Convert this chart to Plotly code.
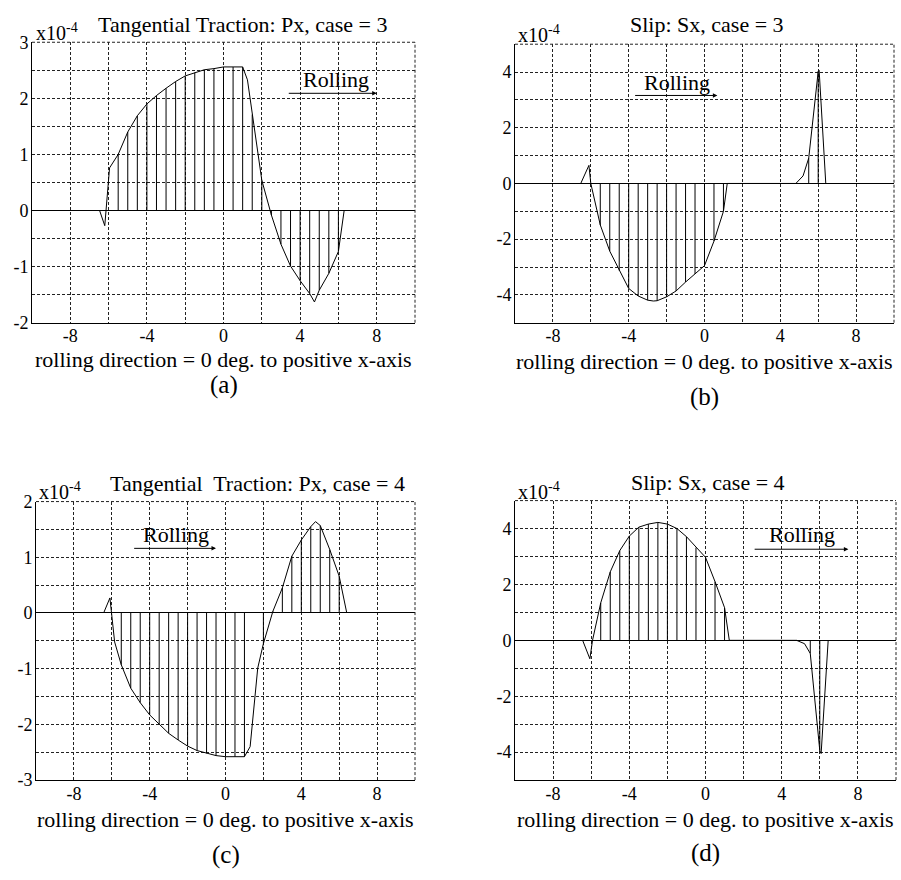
import plotly.graph_objects as go

# ---------------- data (values in units of 1e-4) ----------------
a_x = [-6.47, -6.2, -5.95, -5.5, -5.0, -4.5, -4.0, -3.5, -3.0, -2.5, -2.0, -1.5, -1.0, -0.5, 0.0, 0.5, 1.0, 1.25,
       1.5, 2.0, 2.5, 3.0, 3.5, 4.0, 4.5, 4.75, 5.0, 5.5, 6.0, 6.3]
a_y = [0, -0.27, 0.76, 1.0, 1.40, 1.69, 1.90, 2.05, 2.18, 2.30, 2.40, 2.46, 2.51, 2.53, 2.56, 2.56, 2.56, 2.33,
       1.71, 0.54, -0.08, -0.60, -0.99, -1.25, -1.48, -1.63, -1.42, -1.12, -0.73, 0]

b_x = [-6.53, -6.1, -6.0, -5.5, -5.0, -4.5, -4.0, -3.5, -3.0, -2.7, -2.5, -2.0, -1.5, -1.0, -0.5, 0.0, 0.5, 1.0,
       1.2, 4.82, 5.2, 5.5, 6.0, 6.05, 6.4]
b_y = [0, 0.65, 0, -1.49, -2.43, -3.13, -3.77, -4.04, -4.19, -4.22, -4.21, -4.07, -3.86, -3.54, -3.25, -2.95,
       -2.07, -1.0, 0, 0, 0.27, 0.91, 4.02, 4.06, 0]

c_x = [-6.43, -6.1, -5.85, -5.5, -5.0, -4.5, -4.0, -3.5, -3.0, -2.5, -2.0, -1.5, -1.0, -0.5, 0.0, 0.5, 1.0, 1.3,
       1.7, 2.0, 2.5, 3.0, 3.5, 4.0, 4.5, 4.75, 5.0, 5.5, 6.0, 6.4]
c_y = [0, 0.27, -0.52, -0.93, -1.35, -1.61, -1.83, -2.0, -2.16, -2.28, -2.39, -2.47, -2.52, -2.56, -2.58, -2.58,
       -2.58, -2.4, -0.99, -0.55, 0.03, 0.45, 1.02, 1.31, 1.55, 1.64, 1.57, 1.14, 0.66, 0]

d_x = [-6.45, -6.07, -5.93, -5.5, -5.0, -4.5, -4.0, -3.5, -3.0, -2.5, -2.0, -1.5, -1.0, -0.5, 0.0, 0.5, 1.0, 1.25,
       4.78, 5.2, 5.5, 6.0, 6.07, 6.44]
d_y = [0, -0.66, 0, 1.34, 2.45, 3.21, 3.73, 4.05, 4.16, 4.22, 4.16, 4.0, 3.71, 3.32, 2.97, 2.10, 1.17, 0,
       0, -0.12, -0.47, -3.95, -4.05, 0]

x_ticks = [-8, -4, 0, 4, 8]
a_yticks = [-2, -1, 0, 1, 2, 3]
b_yticks = [-4, -2, 0, 2, 4]
c_yticks = [-3, -2, -1, 0, 1, 2]
d_yticks = [-4, -2, 0, 2, 4]

titles = ["Tangential Traction: Px, case = 3", "Slip: Sx, case = 3",
          "Tangential  Traction: Px, case = 4", "Slip: Sx, case = 4"]
xlabel = "rolling direction = 0 deg. to positive x-axis"
panel_labels = ["(a)", "(b)", "(c)", "(d)"]

# ---------------- figure ----------------
W, H = 901, 880
FONT = "Liberation Serif"
DASH = "3px,2px"
GRIDCOL = "#222"

panels = [
    dict(x=a_x, y=a_y, yt=a_yticks, yr=[-2, 3], ystep=0.5, box=(32, 415, 33, 320),
         title_pos=(243, 15), x10=(34, 22), lab_y=(358, 384), roll=(3.33, 8.0, 2.09, 5.85, 2.33)),
    dict(x=b_x, y=b_y, yt=b_yticks, yr=[-5, 5], ystep=1, box=(515, 894, 35, 320),
         title_pos=(707, 15), x10=(516, 25), lab_y=(360, 396), roll=(-3.74, 0.68, 3.16, -1.47, 3.62)),
    dict(x=c_x, y=c_y, yt=c_yticks, yr=[-3, 2], ystep=0.5, box=(36, 415, 503, 788),
         title_pos=(257, 485), x10=(37, 492), lab_y=(828, 865), roll=(-4.9, -0.5, 1.16, -2.6, 1.4)),
    dict(x=d_x, y=d_y, yt=d_yticks, yr=[-5, 5], ystep=1, box=(515, 896, 502, 788),
         title_pos=(708, 483), x10=(516, 492), lab_y=(828, 863), roll=(2.5, 7.5, 3.26, 5.05, 3.8)),
]

fig = go.Figure()
annotations = []
shapes = []

for i, p in enumerate(panels):
    n = i + 1
    xa = "x" if n == 1 else f"x{n}"
    ya = "y" if n == 1 else f"y{n}"
    xs, ys = p["x"], p["y"]
    # stems at regular sample positions
    sx, sy = [], []
    for xv, yv in zip(xs, ys):
        if abs(xv * 2 - round(xv * 2)) < 1e-9 and yv != 0:
            sx += [xv, xv, None]
            sy += [0, yv, None]
    fig.add_trace(go.Scatter(x=sx, y=sy, mode="lines", line=dict(color="black", width=1),
                             xaxis=xa, yaxis=ya, showlegend=False, hoverinfo="skip"))
    fig.add_trace(go.Scatter(x=xs, y=ys, mode="lines", line=dict(color="black", width=1),
                             xaxis=xa, yaxis=ya, showlegend=False))
    L, R, T, B = p["box"]
    dom_x = [L / W, R / W]
    dom_y = [1 - B / H, 1 - T / H]
    grid = dict(showgrid=True, gridcolor=GRIDCOL, gridwidth=1, griddash=DASH)
    xax = dict(domain=dom_x, anchor=ya, range=[-10, 10], tickvals=x_ticks,
               ticktext=[str(v) for v in x_ticks], ticks="", showline=True, linecolor="black",
               linewidth=1, zeroline=False, tickfont=dict(family=FONT, size=18, color="black"),
               ticklabelstandoff=-3,
               minor=dict(dtick=2, tick0=0, **grid), **grid)
    yax = dict(domain=dom_y, anchor=xa, range=p["yr"], tickvals=p["yt"],
               ticktext=[str(v) for v in p["yt"]], ticks="", showline=True, linecolor="black",
               linewidth=1, zeroline=True, zerolinecolor="black", zerolinewidth=1,
               tickfont=dict(family=FONT, size=18, color="black"), ticklabelstandoff=-1,
               minor=dict(dtick=p["ystep"], tick0=0, **grid), **grid)
    fig.update_layout(**{("xaxis" if n == 1 else f"xaxis{n}"): xax,
                         ("yaxis" if n == 1 else f"yaxis{n}"): yax})

    # dashed top and right frame edges (grid lines at the range limits)
    shapes.append(dict(type="line", xref=f"{xa} domain", yref=f"{ya} domain", x0=0, x1=1, y0=1, y1=1,
                       line=dict(color=GRIDCOL, width=1, dash=DASH)))
    shapes.append(dict(type="line", xref=f"{xa} domain", yref=f"{ya} domain", x0=1, x1=1, y0=0, y1=1,
                       line=dict(color=GRIDCOL, width=1, dash=DASH)))

    tx, ty = p["title_pos"]
    annotations.append(dict(text=titles[i], x=tx / W, y=1 - ty / H, xref="paper", yref="paper",
                            showarrow=False, xanchor="center", yanchor="middle",
                            font=dict(family=FONT, size=22, color="black")))
    qx, qy = p["x10"]
    annotations.append(dict(text="x10<sup>-4</sup>", x=qx / W, y=1 - qy / H, xref="paper", yref="paper",
                            showarrow=False, xanchor="left", yanchor="middle",
                            font=dict(family=FONT, size=20, color="black")))
    cx = (L + R) / 2
    yl, yp = p["lab_y"]
    annotations.append(dict(text=xlabel, x=cx / W, y=1 - yl / H, xref="paper", yref="paper",
                            showarrow=False, xanchor="center", yanchor="middle",
                            font=dict(family=FONT, size=22, color="black")))
    annotations.append(dict(text=panel_labels[i], x=cx / W, y=1 - yp / H, xref="paper", yref="paper",
                            showarrow=False, xanchor="center", yanchor="middle",
                            font=dict(family=FONT, size=25, color="black")))
    x0, x1, yarr, xt, yt = p["roll"]
    annotations.append(dict(text="", x=x1, y=yarr, ax=x0, ay=yarr, xref=xa, yref=ya, axref=xa, ayref=ya,
                            showarrow=True, arrowhead=2, arrowsize=0.9, arrowwidth=1, arrowcolor="black"))
    annotations.append(dict(text="Rolling", x=xt, y=yt, xref=xa, yref=ya, showarrow=False,
                            xanchor="center", yanchor="middle",
                            font=dict(family=FONT, size=22, color="black")))

fig.update_layout(width=W, height=H, margin=dict(l=0, r=0, t=0, b=0), paper_bgcolor="white",
                  plot_bgcolor="white", annotations=annotations, shapes=shapes, showlegend=False)

fig.write_html("out.html")
